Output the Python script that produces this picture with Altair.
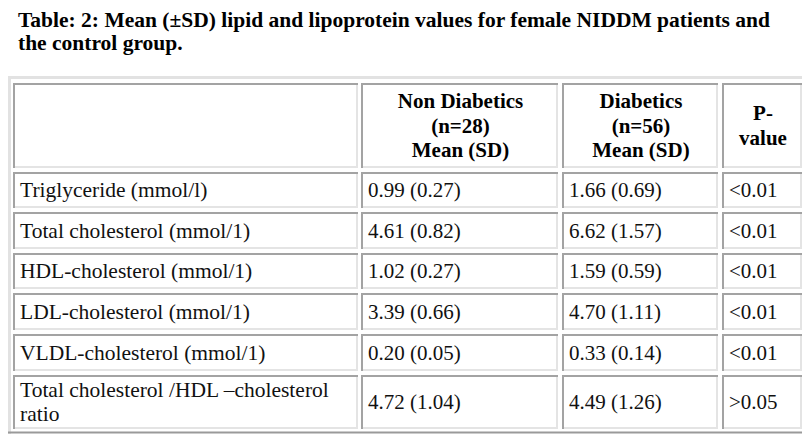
import altair as alt
import pandas as pd

# ---------------- data ----------------
title_lines = [
    "Table: 2: Mean (\u00b1SD) lipid and lipoprotein values for female NIDDM patients and",
    "the control group.",
]
header_cols = [
    [],
    ["Non Diabetics", "(n=28)", "Mean (SD)"],
    ["Diabetics", "(n=56)", "Mean (SD)"],
    ["P-", "value"],
]
row_labels = [
    ["Triglyceride (mmol/l)"],
    ["Total cholesterol (mmol/1)"],
    ["HDL-cholesterol (mmol/1)"],
    ["LDL-cholesterol (mmol/1)"],
    ["VLDL-cholesterol (mmol/1)"],
    ["Total cholesterol /HDL \u2013cholesterol", "ratio"],
]
non_diabetics = ["0.99 (0.27)", "4.61 (0.82)", "1.02 (0.27)", "3.39 (0.66)", "0.20 (0.05)", "4.72 (1.04)"]
diabetics = ["1.66 (0.69)", "6.62 (1.57)", "1.59 (0.59)", "4.70 (1.11)", "0.33 (0.14)", "4.49 (1.26)"]
p_values = ["<0.01", "<0.01", "<0.01", "<0.01", "<0.01", ">0.05"]

# ---------------- layout (pixel space of the page) ----------------
col_edges = [(13, 358), (361, 558), (562, 718), (722, 802)]
row_edges = [(83, 168), (172, 208), (212, 249), (253, 289), (293, 330), (334, 371), (375, 429)]
LINE_H = 24.5
FONT = "Liberation Serif"

# text records
head = []
labels = []
values = []
for ci, lines in enumerate(header_cols):
    if not lines:
        continue
    x0, x1 = col_edges[ci]
    y0, y1 = row_edges[0]
    cy = (y0 + y1) / 2 + 1
    n = len(lines)
    for li, t in enumerate(lines):
        head.append({"x": (x0 + x1) / 2 + 1, "y": cy + (li - (n - 1) / 2) * LINE_H, "t": t})

for ri in range(len(row_labels)):
    y0, y1 = row_edges[ri + 1]
    cy = (y0 + y1) / 2 + 1
    cells = [row_labels[ri], [non_diabetics[ri]], [diabetics[ri]], [p_values[ri]]]
    for ci, lines in enumerate(cells):
        x0, _ = col_edges[ci]
        n = len(lines)
        for li, t in enumerate(lines):
            rec = {"x": x0 + 7, "y": cy + (li - (n - 1) / 2) * LINE_H, "t": t}
            (labels if ci == 0 else values).append(rec)

titles = [{"x": 18, "y": 27 + i * 22.5, "t": t} for i, t in enumerate(title_lines)]

# border records
dark_lines = []   # cell top/left (inset shadow)
light_lines = []  # cell bottom/right
for ri, (y0, y1) in enumerate(row_edges):
    for ci, (x0, x1) in enumerate(col_edges):
        dark_lines.append({"x": x0, "x2": x1, "y": y0 + 1, "y2": y0 + 1})
        dark_lines.append({"x": x0 + 1, "x2": x0 + 1, "y": y0, "y2": y1})
        light_lines.append({"x": x0, "x2": x1, "y": y1 - 1, "y2": y1 - 1})
        light_lines.append({"x": x1 - 1, "x2": x1 - 1, "y": y0, "y2": y1})

outer_light = [
    {"x": 8, "x2": 806, "y": 77.5, "y2": 77.5},
    {"x": 9.5, "x2": 9.5, "y": 76, "y2": 434},
]
outer_dark = [
    {"x": 8, "x2": 806, "y": 432.5, "y2": 432.5},
    {"x": 805, "x2": 805, "y": 76, "y2": 434},
]

W, H = 794, 426
xs = alt.Scale(domain=[8, 8 + W], range=[0, W])
ys = alt.Scale(domain=[8, 8 + H], range=[0, H])


def rules(recs, color, width):
    return alt.Chart(pd.DataFrame(recs)).mark_rule(color=color, strokeWidth=width).encode(
        x=alt.X("x:Q", scale=xs, axis=None),
        x2="x2:Q",
        y=alt.Y("y:Q", scale=ys, axis=None),
        y2="y2:Q",
    )


def texts(recs, size, weight, align, color="#111111", baseline="middle"):
    return alt.Chart(pd.DataFrame(recs)).mark_text(
        font=FONT, fontSize=size, fontWeight=weight, align=align, baseline=baseline, color=color
    ).encode(
        x=alt.X("x:Q", scale=xs, axis=None),
        y=alt.Y("y:Q", scale=ys, axis=None),
        text="t:N",
    )


chart = alt.layer(
    rules(outer_light, "#e2e2e2", 3),
    rules(outer_dark, "#9a9a9a", 2),
    rules(light_lines, "#e4e4e4", 2),
    rules(dark_lines, "#a3a3a3", 2),
    texts(titles, 21.5, "bold", "left", "#000000", "alphabetic"),
    texts(head, 21, "bold", "center", "#000000"),
    texts(labels, 21.5, "normal", "left", "#111111"),
    texts(values, 21, "normal", "left", "#111111"),
).properties(
    width=W, height=H, padding=0, autosize=alt.AutoSizeParams(type="none"), background="white"
).configure_view(stroke=None)

chart.save("out.html", embed_options={"renderer": "svg", "actions": False})
